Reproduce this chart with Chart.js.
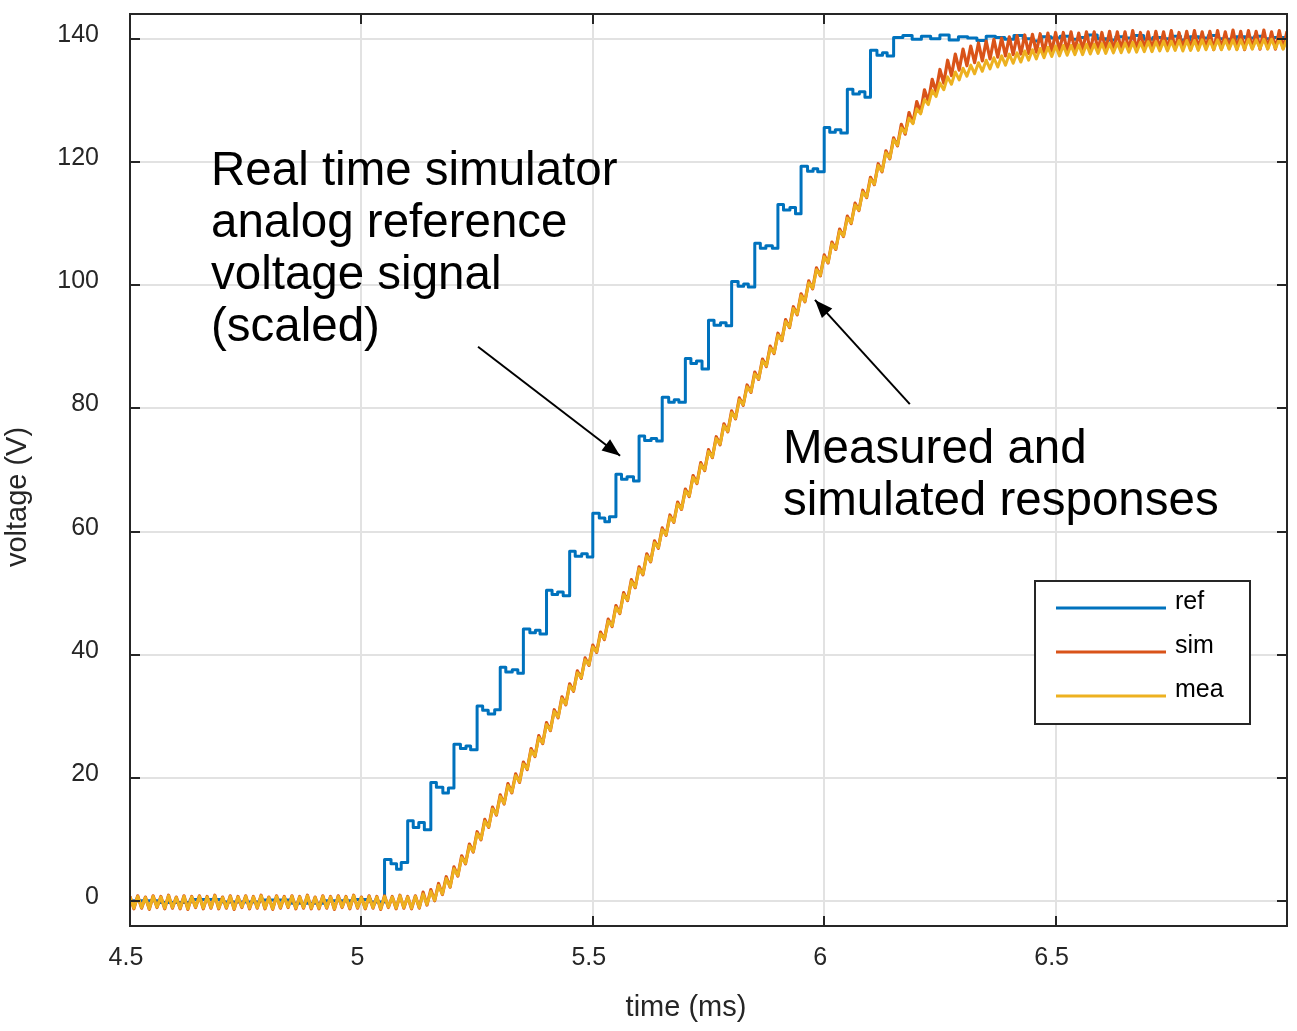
<!DOCTYPE html>
<html><head><meta charset="utf-8">
<script src="https://cdn.jsdelivr.net/npm/chart.js@4.4.1/dist/chart.umd.min.js"></script>
<style>html,body{margin:0;padding:0;background:#fff;}#wrap{width:1297px;height:1031px;position:relative;}</style>
</head><body><div id="wrap"><canvas id="c" width="1297" height="1031"></canvas></div>
<script>
// ---- data ----
const sampleStartMs = 4.5;        // first sample time of sim / mea records
const samplePeriodMs = 1 / 120;   // sampling period of sim / mea records

const simVolt = [
0.8,-1.2,0.9,-1.1,0.7,-1.3,0.9,-1.0,0.8,-1.2,
1.0,-1.1,0.7,-1.2,0.9,-1.3,0.8,-1.0,0.9,-1.2,
0.8,-1.1,1.0,-1.2,0.7,-1.1,0.9,-1.3,0.8,-1.0,
0.9,-1.2,0.8,-1.1,1.0,-1.2,0.7,-1.3,0.9,-1.1,
0.8,-1.0,0.9,-1.2,0.8,-1.1,1.0,-1.2,0.7,-1.2,
0.9,-1.1,0.8,-1.3,0.9,-1.0,0.8,-1.2,1.0,-1.1,
0.7,-1.2,0.9,-1.1,0.8,-1.3,0.9,-1.0,0.8,-1.2,
1.0,-1.1,0.8,-1.2,0.9,-1.1,1.5,-0.6,1.9,0.1,
2.9,1.1,4.0,2.3,5.6,4.1,7.4,6.1,9.3,8.0,
11.3,10.0,13.3,12.0,15.3,14.0,17.3,15.8,19.1,17.6,
20.7,19.3,22.6,21.4,24.8,23.5,26.9,25.6,29.0,27.7,
31.1,29.8,33.2,31.9,35.3,34.1,37.4,36.2,39.5,38.3,
41.6,40.4,43.7,42.5,45.8,44.6,48.0,46.7,50.1,48.8,
52.2,50.9,54.3,53.0,56.4,55.1,58.5,57.3,60.6,59.4,
62.7,61.5,64.8,63.6,66.9,65.7,69.1,67.8,71.2,69.9,
73.3,72.0,75.4,74.1,77.5,76.2,79.6,78.3,81.7,80.5,
83.8,82.6,85.9,84.7,88.0,86.8,90.1,88.9,92.2,91.0,
94.4,93.1,96.5,95.2,98.6,97.3,100.7,99.4,102.8,101.5,
104.9,103.6,107.0,105.8,109.1,107.9,111.2,110.0,113.3,112.1,
115.4,114.2,117.5,116.3,119.7,118.4,121.8,120.5,123.9,122.6,
126.1,124.5,128.0,126.3,129.8,128.0,131.7,129.8,133.4,131.4,
135.0,132.8,136.5,134.0,137.5,134.9,138.3,135.6,138.8,136.1,
139.3,136.4,139.6,136.7,139.9,137.0,140.1,137.2,140.3,137.4,
140.5,137.5,140.6,137.6,140.7,137.8,140.8,137.7,140.9,137.9,
141.0,138.0,141.0,137.9,141.1,138.1,140.9,138.2,141.1,138.0,
141.1,138.1,141.0,138.2,141.2,138.0,141.1,138.2,141.1,138.1,
141.3,138.2,141.0,138.3,141.1,138.1,141.2,138.3,141.1,138.2,
141.3,138.3,141.0,138.4,141.2,138.2,141.3,138.3,141.1,138.4,
141.2,138.2,141.3,138.3,141.1,138.4,141.4,138.3,141.2,138.2,
141.3,138.4,141.2,138.3,141.4,138.4,141.1,138.3,141.3,138.4,
141.2
];

const meaVolt = [
0.7,-1.1,0.8,-1.0,0.6,-1.2,0.8,-0.9,0.7,-1.1,
0.9,-1.0,0.6,-1.1,0.8,-1.2,0.7,-0.9,0.8,-1.1,
0.7,-1.0,0.9,-1.1,0.6,-1.0,0.8,-1.2,0.7,-0.9,
0.8,-1.1,0.7,-1.0,0.9,-1.1,0.6,-1.2,0.8,-1.0,
0.7,-0.9,0.8,-1.1,0.7,-1.0,0.9,-1.1,0.6,-1.1,
0.8,-1.0,0.7,-1.2,0.8,-0.9,0.7,-1.1,0.9,-1.0,
0.6,-1.1,0.8,-1.0,0.7,-1.2,0.8,-0.9,0.7,-1.1,
0.9,-1.0,0.7,-1.1,0.8,-1.0,1.2,-0.5,1.6,0.2,
2.6,1.2,3.7,2.4,5.3,4.2,7.1,6.2,9.0,8.1,
11.0,10.1,13.0,12.1,15.0,14.1,17.0,15.9,18.8,17.7,
20.4,19.4,22.3,21.5,24.5,23.6,26.6,25.7,28.7,27.8,
30.8,29.9,32.9,32.0,35.0,34.2,37.1,36.3,39.2,38.4,
41.3,40.5,43.4,42.6,45.5,44.7,47.7,46.8,49.8,48.9,
51.9,51.0,54.0,53.1,56.1,55.2,58.2,57.4,60.3,59.5,
62.4,61.6,64.5,63.7,66.6,65.8,68.8,67.9,70.9,70.0,
73.0,72.1,75.1,74.2,77.2,76.3,79.3,78.4,81.4,80.6,
83.5,82.7,85.6,84.8,87.7,86.9,89.8,89.0,91.9,91.1,
94.1,93.2,96.2,95.3,98.3,97.4,100.4,99.5,102.5,101.6,
104.6,103.7,106.7,105.9,108.8,108.0,110.9,110.1,113.0,112.2,
115.1,114.3,117.2,116.4,119.4,118.5,121.5,120.6,123.6,122.7,
125.5,124.7,127.1,126.2,128.6,127.8,130.1,129.3,131.6,130.6,
132.8,131.7,133.8,132.6,134.6,133.3,135.2,133.9,135.7,134.3,
136.1,134.7,136.5,135.1,136.9,135.4,137.2,135.7,137.5,136.0,
137.7,136.2,138.0,136.5,138.2,136.7,138.4,136.9,138.6,137.1,
138.8,137.2,138.9,137.3,138.9,137.4,139.0,137.4,139.1,137.5,
139.1,137.6,139.2,137.6,139.2,137.7,139.3,137.7,139.3,137.8,
139.4,137.8,139.4,137.9,139.5,137.9,139.5,138.0,139.6,138.0,
139.6,138.1,139.7,138.0,139.7,138.1,139.7,138.1,139.8,138.2,
139.7,138.2,139.8,138.2,139.8,138.3,139.8,138.2,139.8,138.3,
139.9,138.3,139.8,138.4,139.9,138.3,139.9,138.4,139.9,138.3,
139.9
];

const refTime = [
4.50,4.56,4.63,4.70,4.78,4.85,4.92,4.98,5.02,
5.050,5.064,5.076,5.086, 5.100,5.112,5.124,5.136, 5.150,5.162,5.176,5.188,
5.200,5.214,5.226,5.236, 5.250,5.262,5.274,5.288, 5.300,5.312,5.326,5.338,
5.350,5.364,5.376,5.386, 5.400,5.412,5.424,5.436, 5.450,5.462,5.476,5.488,
5.500,5.514,5.526,5.536, 5.550,5.562,5.574,5.588, 5.600,5.612,5.626,5.638,
5.650,5.664,5.676,5.686, 5.700,5.712,5.724,5.736, 5.750,5.762,5.776,5.788,
5.800,5.814,5.826,5.836, 5.850,5.862,5.874,5.888, 5.900,5.912,5.926,5.938,
5.950,5.964,5.976,5.986, 6.000,6.012,6.024,6.036, 6.050,6.062,6.076,6.088,
6.100,6.114,6.126,6.136,
6.150,6.17,6.19,6.21,6.23,6.25,6.27,6.29,6.31,6.33,6.35,6.37,6.39,6.41,6.43,
6.45,6.47,6.49,6.51,6.53,6.55,6.57,6.59,6.61,6.63,6.65,6.67,6.69,6.71,6.73,
6.75,6.77,6.79,6.81,6.83,6.85,6.87,6.89,6.91,6.93,6.95,6.97,7.00
];
const refVolt = [
0.1,-0.2,0.3,-0.1,0.2,-0.3,0.1,0.3,-0.1,
6.8,6.1,5.2,6.3, 13.1,12.0,12.8,11.6, 19.3,18.5,17.6,18.4,
25.5,24.8,25.2,24.6, 31.7,31.0,30.4,31.1, 38.0,37.2,37.6,37.0,
44.2,43.6,44.0,43.4, 50.5,49.8,50.2,49.6, 56.8,56.0,56.4,55.9,
63.0,62.2,61.6,62.4, 69.3,68.5,68.9,68.2, 75.5,74.8,75.1,74.7,
81.8,81.0,81.4,81.0, 88.1,87.3,87.7,86.4, 94.3,93.5,93.9,93.4,
100.6,99.8,100.2,99.7, 106.8,106.0,106.4,106.0, 113.1,112.2,112.6,111.6,
119.3,118.5,118.9,118.4, 125.6,124.8,125.2,124.7, 131.8,131.0,131.4,130.5,
138.1,137.3,137.7,137.2,
140.2,140.5,139.9,140.4,140.0,140.6,139.8,140.3,140.1,139.7,140.4,140.2,139.9,140.5,140.0,
139.6,140.3,140.1,140.4,139.9,140.2,140.6,140.0,139.8,140.3,140.1,140.5,139.9,140.2,140.0,
140.4,139.8,140.3,140.1,140.5,140.0,139.9,140.3,140.1,140.4,140.0,140.2,140.2
];

const seriesNames = ['ref', 'sim', 'mea'];
const xTicks = [4.5, 5, 5.5, 6, 6.5];
const yTicks = [0, 20, 40, 60, 80, 100, 120, 140];
const xLabel = 'time (ms)';
const yLabel = 'voltage (V)';
const noteRef = ['Real time simulator', 'analog reference', 'voltage signal', '(scaled)'];
const noteResp = ['Measured and', 'simulated responses'];

// ---- styling ----
const FONT = "'Liberation Sans', Arial, Helvetica, sans-serif";
const COLORS = ['#0072BD', '#D95319', '#EDB120'];
const AXIS_COLOR = '#262626';

const refPts = refTime.map((t, i) => ({x: t, y: refVolt[i]}));
const simPts = simVolt.map((v, i) => ({x: sampleStartMs + i * samplePeriodMs, y: v}));
const meaPts = meaVolt.map((v, i) => ({x: sampleStartMs + i * samplePeriodMs, y: v}));

function arrow(ctx, x1, y1, x2, y2) {
  ctx.beginPath(); ctx.moveTo(x1, y1); ctx.lineTo(x2, y2); ctx.stroke();
  const a = Math.atan2(y2 - y1, x2 - x1), L = 18, W = 7;
  ctx.beginPath();
  ctx.moveTo(x2, y2);
  ctx.lineTo(x2 - L * Math.cos(a) + W * Math.sin(a), y2 - L * Math.sin(a) - W * Math.cos(a));
  ctx.lineTo(x2 - L * Math.cos(a) - W * Math.sin(a), y2 - L * Math.sin(a) + W * Math.cos(a));
  ctx.closePath(); ctx.fill();
}

const decorPlugin = {
  id: 'decor',
  afterDraw(chart) {
    const ctx = chart.ctx, ca = chart.chartArea;
    const xs = chart.scales.x, ys = chart.scales.y;
    ctx.save();
    // axes box
    ctx.strokeStyle = AXIS_COLOR; ctx.lineWidth = 2;
    ctx.strokeRect(ca.left, ca.top, ca.right - ca.left, ca.bottom - ca.top);
    // inward ticks on all sides
    const TL = 10;
    ctx.beginPath();
    xTicks.forEach(v => {
      const p = Math.round(xs.getPixelForValue(v));
      ctx.moveTo(p, ca.bottom); ctx.lineTo(p, ca.bottom - TL);
      ctx.moveTo(p, ca.top); ctx.lineTo(p, ca.top + TL);
    });
    yTicks.forEach(v => {
      const p = Math.round(ys.getPixelForValue(v));
      ctx.moveTo(ca.left, p); ctx.lineTo(ca.left + TL, p);
      ctx.moveTo(ca.right, p); ctx.lineTo(ca.right - TL, p);
    });
    ctx.stroke();

    // axis titles
    ctx.fillStyle = AXIS_COLOR;
    ctx.font = '29px ' + FONT;
    ctx.textAlign = 'center'; ctx.textBaseline = 'alphabetic';
    ctx.fillText(xLabel, 686, 1016);
    ctx.save();
    ctx.translate(26, 497); ctx.rotate(-Math.PI / 2);
    ctx.fillText(yLabel, 0, 0);
    ctx.restore();

    // annotations
    ctx.fillStyle = '#000'; ctx.strokeStyle = '#000';
    ctx.font = '47.5px ' + FONT; ctx.textAlign = 'left';
    noteRef.forEach((s, i) => ctx.fillText(s, 211, 185 + i * 52));
    noteResp.forEach((s, i) => ctx.fillText(s, 783, 463 + i * 52));
    ctx.lineWidth = 2;
    arrow(ctx, xs.getPixelForValue(5.252), ys.getPixelForValue(90.0), xs.getPixelForValue(5.559), ys.getPixelForValue(72.3));
    arrow(ctx, xs.getPixelForValue(6.185), ys.getPixelForValue(80.7), xs.getPixelForValue(5.980), ys.getPixelForValue(97.6));

    // legend
    const bx = 1035, by = 581, bw = 215, bh = 143;
    ctx.fillStyle = '#fff'; ctx.fillRect(bx, by, bw, bh);
    ctx.strokeStyle = AXIS_COLOR; ctx.lineWidth = 2; ctx.strokeRect(bx, by, bw, bh);
    ctx.font = '25px ' + FONT; ctx.textBaseline = 'alphabetic';
    seriesNames.forEach((n, i) => {
      const ly = 608 + i * 44;
      ctx.strokeStyle = COLORS[i]; ctx.lineWidth = 3;
      ctx.beginPath(); ctx.moveTo(1056, ly); ctx.lineTo(1166, ly); ctx.stroke();
      ctx.fillStyle = '#000';
      ctx.fillText(n, 1175, ly + 1);
    });
    ctx.restore();
  }
};

const chart = new Chart(document.getElementById('c'), {
  type: 'line',
  data: {
    datasets: [
      {label: seriesNames[0], data: refPts, borderColor: COLORS[0], borderWidth: 3, stepped: true, order: 3},
      {label: seriesNames[1], data: simPts, borderColor: COLORS[1], borderWidth: 3.2, order: 2},
      {label: seriesNames[2], data: meaPts, borderColor: COLORS[2], borderWidth: 3, order: 1}
    ]
  },
  options: {
    responsive: false,
    animation: false,
    parsing: false,
    normalized: true,
    elements: {point: {radius: 0, hoverRadius: 0}, line: {tension: 0, fill: false, borderJoinStyle: 'round'}},
    layout: {padding: {left: 0, right: 10, top: 14, bottom: 0}},
    plugins: {legend: {display: false}, tooltip: {enabled: false}},
    events: [],
    scales: {
      x: {
        type: 'linear', min: 4.5, max: 7.0,
        afterBuildTicks: ax => { ax.ticks = xTicks.map(v => ({value: v})); },
        afterFit: ax => { ax.height = 105; ax.paddingLeft = 0; ax.paddingRight = 0; },
        grid: {color: '#e2e2e2', lineWidth: 2, drawTicks: false},
        border: {display: false},
        ticks: {color: AXIS_COLOR, font: {family: FONT, size: 25}, padding: 17, labelOffset: -4, maxRotation: 0, autoSkip: false,
                callback: v => String(v)}
      },
      y: {
        type: 'linear', min: -4, max: 144,
        afterBuildTicks: ax => { ax.ticks = yTicks.map(v => ({value: v})); },
        afterFit: ax => { ax.width = 130; ax.paddingTop = 0; ax.paddingBottom = 0; },
        grid: {color: '#e2e2e2', lineWidth: 2, drawTicks: false},
        border: {display: false},
        ticks: {color: AXIS_COLOR, font: {family: FONT, size: 25}, padding: 31, labelOffset: -4, autoSkip: false,
                callback: v => String(v)}
      }
    }
  },
  plugins: [decorPlugin]
});
</script>
</body></html>
